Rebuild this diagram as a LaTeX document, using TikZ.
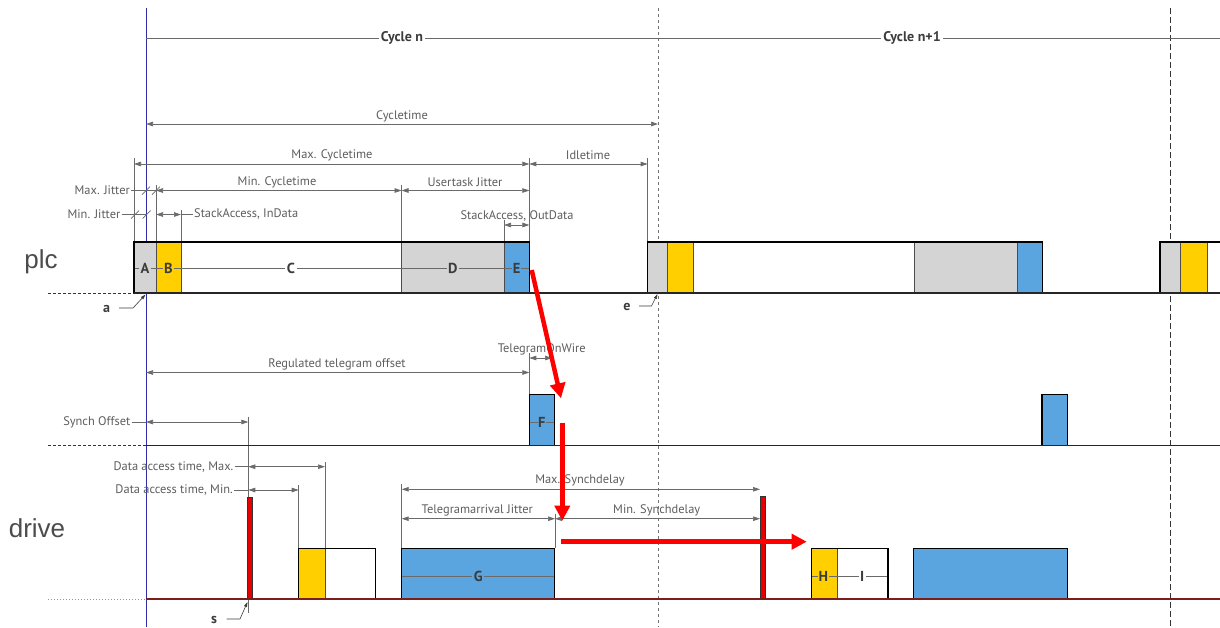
\documentclass[tikz,border=0pt]{standalone}
\usepackage{fontspec}
\setmainfont{PT Sans}
\newfontfamily\ptsans{PT Sans}
\newfontfamily\arialfam{Liberation Sans}
\usetikzlibrary{arrows.meta}
\definecolor{dimc}{HTML}{6A6A6A}
\definecolor{lblc}{HTML}{5E5E5E}
\definecolor{letc}{HTML}{3C3C3C}
\definecolor{grayf}{HTML}{D4D4D4}
\definecolor{yelf}{HTML}{FFCF00}
\definecolor{bluef}{HTML}{5AA5E0}
\definecolor{redc}{HTML}{FF0000}
\definecolor{barred}{HTML}{E60000}
\definecolor{vblue}{HTML}{2E2EA8}
\definecolor{maroon}{HTML}{7A1E1E}
\newcommand\dlfont{\ptsans\fontsize{12.4}{14}\selectfont}
\newcommand\ltfont{\ptsans\bfseries\fontsize{14.5}{16}\selectfont}
\newcommand\cyfont{\ptsans\bfseries\fontsize{14}{15}\selectfont}
\newcommand\bigfont{\arialfam\fontsize{26}{30}\selectfont}
\tikzset{
  dimline/.style={draw=dimc, line width=0.7pt, {Triangle[length=7pt,width=4.5pt]}-{Triangle[length=7pt,width=4.5pt]}},
  extline/.style={draw=dimc, line width=0.6pt},
  leader/.style={draw=dimc, line width=0.6pt},
  dimlabel/.style={font=\dlfont, text=lblc, inner sep=1pt},
  boxletter/.style={font=\ltfont, text=letc, inner sep=1.5pt},
  ptlabel/.style={font=\cyfont, text=letc, inner sep=1pt},
  cyclelabel/.style={font=\cyfont, text=letc, fill=white, inner sep=2pt},
  redarrow/.style={draw=redc, line width=4.5pt, -{Triangle[length=15pt,width=15pt]}},
  divider/.style={draw=black!70, line width=0.6pt},
  boxedge/.style={draw=black, line width=1.2pt},
  redbar/.style={fill=barred, draw=black!80, line width=0.8pt},
  marker/.style={draw=letc, line width=0.6pt, -{Triangle[length=5pt,width=3pt]}},
  tick/.style={draw=dimc, line width=0.7pt},
}
\begin{document}
\begin{tikzpicture}[x=1pt,y=-1pt]
\useasboundingbox (0,0) rectangle (1220,627);
\fill[white] (0,0) rectangle (1220,627);

% ---------- cycle boundary lines ----------
\draw[vblue, line width=0.7pt] (146,8) -- (146,627);
\draw[black!55, line width=0.7pt, dash pattern=on 3pt off 3pt] (658,8) -- (658,627);
\draw[black!80, line width=0.7pt, dash pattern=on 6pt off 3pt] (1170,8) -- (1170,627);

% ---------- cycle labels ----------
\draw[dimc, line width=0.7pt] (146,38) -- (1220,38);
\node[cyclelabel] (cyn) at (402,38) {Cycle n};
\node[cyclelabel] (cyn1) at (912,38) {Cycle n+1};

% ---------- plc dimensions ----------
\draw[dimline] (146,124) -- (658,124);
\node[dimlabel] (lcyc) at (402,116) {Cycletime};

\draw[extline] (134,158) -- (134,242);
\draw[extline] (156,185) -- (156,242);
\draw[extline] (181,210) -- (181,242);
\draw[extline] (401.5,185) -- (401.5,242);
\draw[extline] (504,220) -- (504,242);
\draw[extline] (529.3,158) -- (529.3,242);
\draw[extline] (647.7,158) -- (647.7,242);

\draw[dimline] (134,164) -- (529.3,164);
\node[dimlabel] (lmaxc) at (332,155.5) {Max. Cycletime};
\draw[dimline] (529.3,164) -- (647.7,164);
\node[dimlabel] (lidle) at (588,155.5) {Idletime};

\draw[dimline] (156,190.5) -- (401.5,190.5);
\node[dimlabel] (lminc) at (277,182) {Min. Cycletime};
\draw[dimline] (401.5,190.5) -- (529.3,190.5);
\node[dimlabel] (luser) at (465,182) {Usertask Jitter};

\node[dimlabel, anchor=east] (lmaxj) at (131,190.5) {Max. Jitter};
\draw[leader] (lmaxj.east) -- (156,190.5);
\draw[tick] (142,194.5) -- (150,186.5);
\draw[tick] (152,194.5) -- (160,186.5);

\node[dimlabel, anchor=east] (lminj) at (121.5,214.5) {Min. Jitter};
\draw[leader] (lminj.east) -- (147,214.5);
\draw[tick] (131,218.5) -- (139,210.5);
\draw[tick] (142.7,218.5) -- (150.7,210.5);

\draw[dimline] (156,214.5) -- (181,214.5);
\node[dimlabel, anchor=west] (lsin) at (193,214.5) {StackAccess, InData};
\draw[leader] (181,214.5) -- (lsin.west);

\draw[dimline] (504,225) -- (529.3,225);
\node[dimlabel] (lsout) at (517,216.5) {StackAccess, OutData};

% ---------- plc boxes ----------
\fill[grayf] (134,242) rectangle (156,293);
\fill[yelf] (156,242) rectangle (181,293);
\fill[white] (181,242) rectangle (401.5,293);
\fill[grayf] (401.5,242) rectangle (504,293);
\fill[bluef] (504,242) rectangle (529.3,293);
\draw[divider] (156,242) -- (156,293);
\draw[divider] (181,242) -- (181,293);
\draw[divider] (401.5,242) -- (401.5,293);
\draw[divider] (504,242) -- (504,293);
\draw[dimc, line width=0.6pt] (134,268) -- (529.3,268);
\draw[boxedge] (134,242) rectangle (529.3,293);
\node[boxletter, fill=grayf] (A) at (145,268) {A};
\node[boxletter, fill=yelf] (B) at (168.5,268) {B};
\node[boxletter, fill=white] (C) at (291,268) {C};
\node[boxletter, fill=grayf] (D) at (452.7,268) {D};
\node[boxletter, fill=bluef, inner sep=0.5pt] (E) at (516.7,268) {E};

\fill[grayf] (647.7,242) rectangle (667.5,293);
\fill[yelf] (667.5,242) rectangle (693.5,293);
\fill[white] (693.5,242) rectangle (914,293);
\fill[grayf] (914,242) rectangle (1017,293);
\fill[bluef] (1017,242) rectangle (1042.5,293);
\draw[divider] (667.5,242) -- (667.5,293);
\draw[divider] (693.5,242) -- (693.5,293);
\draw[divider] (914,242) -- (914,293);
\draw[divider] (1017,242) -- (1017,293);
\draw[boxedge] (647.7,242) rectangle (1042.5,293);

\fill[grayf] (1160,242) rectangle (1180.5,293);
\fill[yelf] (1180.5,242) rectangle (1207,293);
\draw[divider] (1180.5,242) -- (1180.5,293);
\draw[divider] (1207,242) -- (1207,293);
\draw[boxedge] (1220,242) -- (1160,242) -- (1160,293);

% plc baseline
\draw[black!85, line width=1.2pt] (134,293) -- (1220,293);
\draw[black!80, line width=0.7pt, dash pattern=on 3pt off 2pt] (48,293) -- (134,293);

% markers a, e
\node[ptlabel] (pa) at (106.7,309) {a};
\draw[marker] (119,308) -- (133,308) -- (145.5,294.5);
\node[ptlabel] (pe) at (627,306.5) {e};
\draw[marker] (639,306) -- (651.5,306) -- (657.5,294);

% ---------- telegram ----------
\draw[extline] (529.3,353) -- (529.3,394.5);
\draw[dimline] (146,372.5) -- (529.3,372.5);
\node[dimlabel] (lreg) at (337,364) {Regulated telegram offset};
\draw[dimline] (529.3,358) -- (552,358);
\node[dimlabel] (lwire) at (541.7,349) {TelegramOnWire};

\draw[extline] (248.3,417) -- (248.3,613);
\draw[dimline] (146,422) -- (248.3,422);
\node[dimlabel, anchor=east] (lsync) at (131.5,422) {Synch Offset};
\draw[leader] (lsync.east) -- (146,422);

\fill[bluef] (529.3,394.5) rectangle (554.3,445.7);
\draw[dimc, line width=0.6pt] (529.3,422) -- (554.3,422);
\draw[boxedge] (529.3,445.7) -- (529.3,394.5) -- (554.3,394.5) -- (554.3,445.7);
\node[boxletter, fill=bluef, inner sep=0.5pt] (F) at (541.7,422) {F};

\fill[bluef] (1042,394.5) rectangle (1067.3,445.7);
\draw[boxedge] (1042,445.7) -- (1042,394.5) -- (1067.3,394.5) -- (1067.3,445.7);

\draw[black!85, line width=1.2pt] (146,445.7) -- (1220,445.7);
\draw[black!80, line width=0.7pt, dash pattern=on 3pt off 2pt] (48,445.7) -- (146,445.7);

% ---------- drive ----------
\draw[extline] (325,462) -- (325,548.3);
\draw[extline] (298.7,485) -- (298.7,548.3);
\draw[dimline] (248.3,466.7) -- (325,466.7);
\node[dimlabel, anchor=east] (ldmax) at (234.5,466.7) {Data access time, Max.};
\draw[leader] (ldmax.east) -- (248.3,466.7);
\draw[dimline] (248.3,490) -- (298.7,490);
\node[dimlabel, anchor=east] (ldmin) at (234,490) {Data access time, Min.};
\draw[leader] (ldmin.east) -- (248.3,490);

\draw[extline] (401.7,484) -- (401.7,548.3);
\draw[extline] (555,514) -- (555,548.3);
\draw[dimline] (401.7,489.3) -- (760,489.3);
\node[dimlabel] (lmaxs) at (580,480.5) {Max. Synchdelay};
\draw[dimline] (401.7,518.7) -- (555,518.7);
\node[dimlabel] (ltaj) at (477.3,510) {Telegramarrival Jitter};
\draw[dimline] (555,518.7) -- (760,518.7);
\node[dimlabel] (lmins) at (656.7,510) {Min. Synchdelay};

\filldraw[redbar] (247.7,497.3) rectangle (252.7,599);
\filldraw[redbar] (760,496.7) rectangle (765.7,599);

\fill[yelf] (298.7,548.3) rectangle (325,599);
\draw[divider] (325,548.3) -- (325,599);
\draw[boxedge] (298.7,599) -- (298.7,548.3) -- (375.7,548.3) -- (375.7,599);

\fill[bluef] (401.7,548.3) rectangle (554.3,599);
\draw[dimc, line width=0.6pt] (401.7,576) -- (554.3,576);
\draw[boxedge] (401.7,599) -- (401.7,548.3) -- (554.3,548.3) -- (554.3,599);
\node[boxletter, fill=bluef] (G) at (478.3,576) {G};

\fill[yelf] (811.3,548.3) rectangle (837.3,599);
\draw[divider] (837.3,548.3) -- (837.3,599);
\draw[dimc, line width=0.6pt] (811.3,576) -- (888,576);
\draw[boxedge] (811.3,599) -- (811.3,548.3) -- (888,548.3) -- (888,599);
\node[boxletter, fill=yelf, inner sep=0.5pt] (H) at (823.3,576) {H};
\node[boxletter, fill=white] (I) at (862.3,576) {I};

\fill[bluef] (913.3,548.3) rectangle (1067.3,599);
\draw[boxedge] (913.3,599) -- (913.3,548.3) -- (1067.3,548.3) -- (1067.3,599);

\draw[maroon, line width=1.2pt] (146,599) -- (1220,599);
\draw[red!60, line width=0.6pt, dash pattern=on 1pt off 2pt] (48,599) -- (146,599);

\node[ptlabel] (ps) at (214,619.5) {s};
\draw[marker] (226.7,619) -- (240,619) -- (247.5,602);

% ---------- row labels ----------
\node[font=\bigfont, text=black!70] (plc) at (41,262) {plc};
\node[font=\bigfont, text=black!70] (drive) at (37,528) {drive};

% ---------- red flow arrows ----------
\coordinate (r1s) at (531.7,270);
\coordinate (r1e) at (561,398.3);
\coordinate (r2s) at (562.3,422.7);
\coordinate (r2e) at (562.3,520.7);
\coordinate (r3s) at (561,541.7);
\coordinate (r3e) at (806.7,541.7);
\draw[redarrow] (r1s) -- (r1e);
\draw[redarrow] (r2s) -- (r2e);
\draw[redarrow] (r3s) -- (r3e);
\end{tikzpicture}
\end{document}
